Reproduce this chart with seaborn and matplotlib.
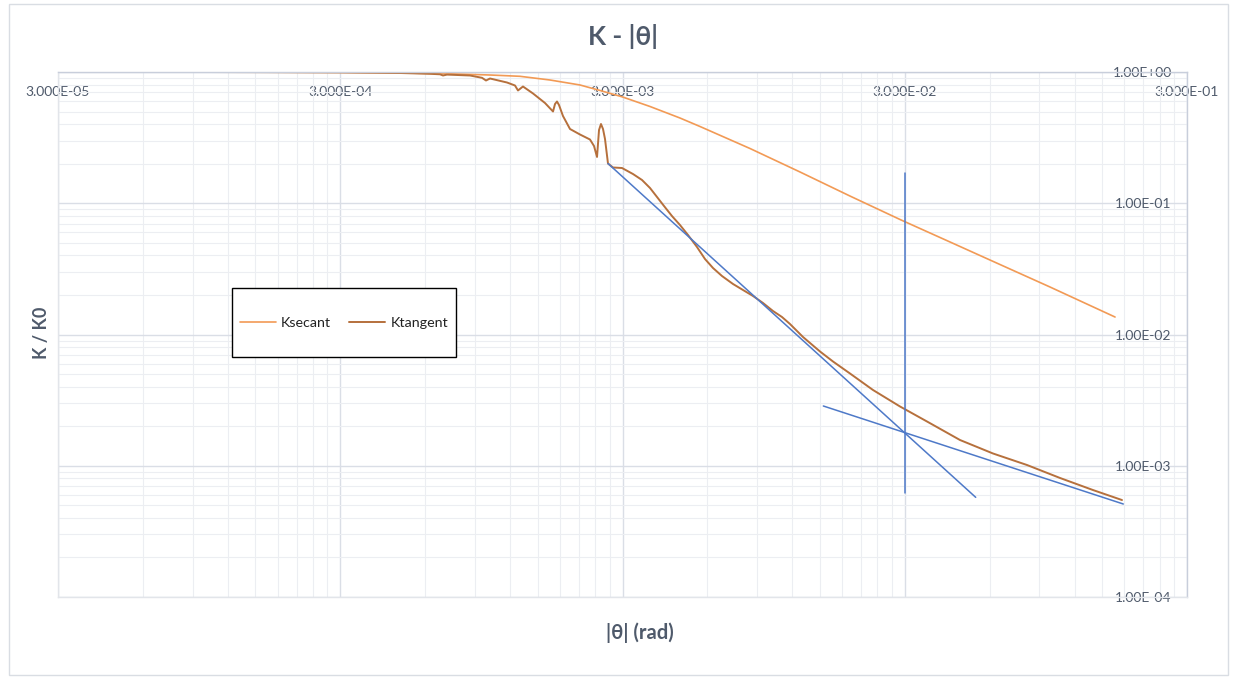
import matplotlib
matplotlib.use("Agg")
import matplotlib.pyplot as plt
import seaborn as sns
from matplotlib.patches import Rectangle
from matplotlib.lines import Line2D

# Secant stiffness ratio vs rotation
theta_sec = [4.90e-5, 9.55e-5, 1.835e-4, 2.994e-4, 4.885e-4, 7.343e-4, 1.018e-3,
             1.300e-3, 1.661e-3, 2.121e-3, 2.497e-3, 2.988e-3, 3.754e-3, 4.794e-3,
             5.645e-3, 8.489e-3, 1.277e-2, 1.919e-2, 2.911e-2, 4.340e-2, 6.526e-2,
             9.811e-2, 0.1668]
k_sec = [1.0, 1.0, 0.9965, 0.993, 0.984, 0.969, 0.9487,
         0.9273, 0.869, 0.7962, 0.7231, 0.6474, 0.5461, 0.4462,
         0.3844, 0.2613, 0.1730, 0.1135, 0.07457, 0.05068, 0.03413,
         0.02301, 0.01359]

# Tangent stiffness ratio vs rotation
theta_tan = [4.895e-5, 9.554e-5, 1.835e-4, 2.994e-4, 4.885e-4, 6.239e-4, 6.769e-4,
             6.937e-4, 7.167e-4, 8.647e-4, 9.535e-4, 9.851e-4, 1.018e-3, 1.169e-3,
             1.248e-3, 1.279e-3, 1.332e-3, 1.446e-3, 1.594e-3, 1.702e-3, 1.730e-3,
             1.758e-3, 1.787e-3, 1.846e-3, 1.955e-3, 2.121e-3, 2.301e-3, 2.378e-3,
             2.437e-3, 2.477e-3, 2.517e-3, 2.559e-3, 2.601e-3, 2.665e-3, 2.776e-3,
             2.988e-3, 3.268e-3, 3.5175e-3, 3.7545e-3, 3.9756e-3, 4.209e-3,
             4.492e-3, 4.794e-3, 5.119e-3, 5.509e-3, 5.880e-3, 6.278e-3,
             6.755e-3, 7.391e-3, 8.018e-3, 8.700e-3, 9.439e-3, 1.0241e-2,
             1.1021e-2, 1.1764e-2, 1.3081e-2, 1.5027e-2, 1.6705e-2, 1.9193e-2,
             2.3155e-2, 2.8859e-2, 3.5967e-2, 4.708e-2, 6.163e-2, 8.134e-2,
             0.10645, 0.13935, 0.17653]
k_tan = [1.0, 1.0, 0.9965, 0.993, 0.9826, 0.9689, 0.9605,
         0.9405, 0.9554, 0.9405, 0.9032, 0.8615, 0.8922, 0.8318,
         0.7892, 0.7231, 0.7755, 0.6858, 0.5805, 0.5001, 0.5704,
         0.5960, 0.5605, 0.4622, 0.3679, 0.3340, 0.3060, 0.2730,
         0.2252, 0.3615, 0.4016, 0.3679, 0.3087, 0.2009, 0.1873,
         0.1856, 0.1670, 0.1504, 0.1307, 0.1116, 0.0953,
         0.0799, 0.0683, 0.0573, 0.0464, 0.0376, 0.0321,
         0.0279, 0.02425, 0.02183, 0.01965, 0.01738, 0.01510,
         0.01359, 0.01202, 0.009571, 0.007422, 0.006228, 0.005045,
         0.003777, 0.002828, 0.002174, 0.001571, 0.001240, 0.001013,
         0.000807, 0.000653, 0.000548]

# Construction lines: two asymptotic tangents and the reference rotation
tan1_theta = [2.665e-3, 5.352e-2]
tan1_k = [0.2008, 5.747e-4]
tan2_theta = [1.544e-2, 0.1784]
tan2_k = [2.853e-3, 5.111e-4]
ref_theta = [3.0e-2, 3.0e-2]
ref_k = [0.1691, 6.23e-4]

x_ticks = [3e-5, 3e-4, 3e-3, 3e-2, 3e-1]
x_labels = ["3.000E-05", "3.000E-04", "3.000E-03", "3.000E-02", "3.000E-01"]
y_ticks = [1e-4, 1e-3, 1e-2, 1e-1, 1e0]
y_labels = ["1.00E-04", "1.00E-03", "1.00E-02", "1.00E-01", "1.00E+00"]

title = "K - |θ|"
x_title = "|θ| (rad)"
y_title = "K / K0"
series_names = ["Ksecant", "Ktangent"]

c_sec = "#F29A55"
c_tan = "#B6703C"
c_blue = "#4E79C8"
c_text = "#4F5A6B"

sns.set_theme(style="white")
plt.rcParams["font.family"] = ["Lato", "DejaVu Sans"]

fig = plt.figure(figsize=(12.38, 6.79), dpi=100)
fig.patch.set_facecolor("white")
fig.add_artist(Rectangle((9 / 1238, 4 / 679), 1219 / 1238, 671 / 679,
                         transform=fig.transFigure, fill=False,
                         edgecolor="#d9dde3", lw=1.0))

ax = fig.add_axes([58 / 1238, 1 - 597 / 679, 1129 / 1238, 525 / 679])
ax.set_xscale("log")
ax.set_yscale("log")
ax.set_xlim(x_ticks[0], x_ticks[-1])
ax.set_ylim(y_ticks[0], y_ticks[-1])

x_minor = [m * t for t in x_ticks[:-1] for m in range(2, 10)]
y_minor = [m * t for t in y_ticks[:-1] for m in range(2, 10)]
ax.set_xticks(x_ticks)
ax.set_xticklabels(x_labels)
ax.set_xticks(x_minor, minor=True)
ax.set_xticklabels([], minor=True)
ax.set_yticks(y_ticks)
ax.set_yticklabels(y_labels)
ax.set_yticks(y_minor, minor=True)
ax.set_yticklabels([], minor=True)

ax.set_axisbelow(True)
ax.grid(which="minor", color="#eceef2", lw=0.8)
ax.grid(which="major", color="#dadee6", lw=1.0)

for side in ["top", "right"]:
    ax.spines[side].set_color("#c8cedb")
    ax.spines[side].set_linewidth(1.0)
for side in ["left", "bottom"]:
    ax.spines[side].set_color("#e2e5ea")
    ax.spines[side].set_linewidth(1.0)

ax.tick_params(axis="x", which="both", bottom=False, labelbottom=False,
               top=False, labeltop=True, length=0, pad=-19,
               labelsize=10, labelcolor=c_text)
ax.tick_params(axis="y", which="both", left=False, labelleft=False,
               right=False, labelright=True, length=0, pad=-11,
               labelsize=10, labelcolor=c_text)
for t in ax.yaxis.get_major_ticks():
    t.label2.set_horizontalalignment("right")

sns.lineplot(x=theta_sec, y=k_sec, ax=ax, color=c_sec, lw=1.2,
             sort=False, estimator=None)
sns.lineplot(x=theta_tan, y=k_tan, ax=ax, color=c_tan, lw=1.4,
             sort=False, estimator=None)
for xs, ys in [(tan1_theta, tan1_k), (tan2_theta, tan2_k), (ref_theta, ref_k)]:
    sns.lineplot(x=xs, y=ys, ax=ax, color=c_blue, lw=1.1,
                 sort=False, estimator=None)

ax.text(0.5, 1.067, title, transform=ax.transAxes, ha="center", va="center",
        fontsize=19, fontweight="bold", color=c_text)
ax.text((640 - 58) / 1129, -(633 - 597) / 525, x_title, transform=ax.transAxes,
        ha="center", va="center", fontsize=14.5, fontweight="bold", color=c_text)
ax.text((42 - 58) / 1129, 1 - (333 - 72) / 525, y_title, transform=ax.transAxes,
        ha="center", va="center", rotation=90, fontsize=13,
        fontweight="bold", color=c_text)

# legend box
fig.add_artist(Rectangle((232 / 1238, 1 - 357 / 679), 224 / 1238, 69 / 679,
                         transform=fig.transFigure, facecolor="white",
                         edgecolor="black", lw=1.0, zorder=5))
handles = [Line2D([], [], color=c_sec, lw=1.2), Line2D([], [], color=c_tan, lw=1.4)]
leg = fig.legend(handles, series_names, loc="center",
                 bbox_to_anchor=(344 / 1238, 1 - 323 / 679), ncol=2,
                 frameon=False, fontsize=10.3, handlelength=2.5,
                 handletextpad=0.35, columnspacing=1.3)
leg.set_zorder(6)
for txt in leg.get_texts():
    txt.set_color("#222222")

fig.savefig("out.png", dpi=100, facecolor="white")
